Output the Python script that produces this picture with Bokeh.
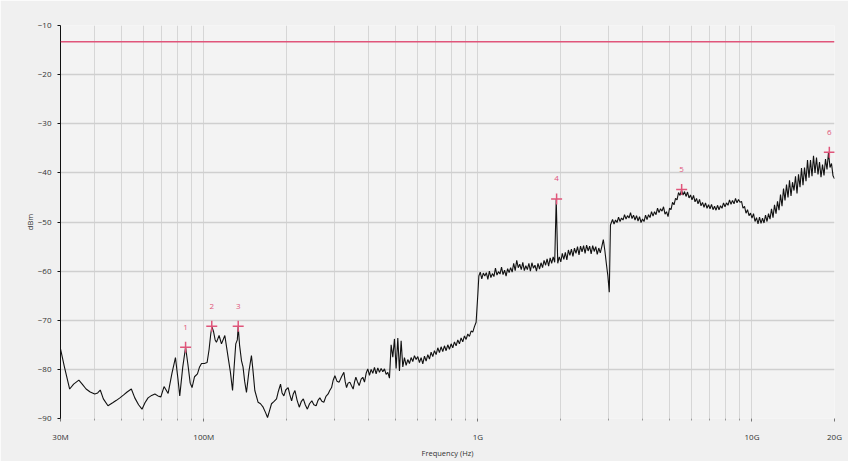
import numpy as np
from bokeh.plotting import figure
from bokeh.models import (Range1d, FixedTicker, CustomJSTickFormatter, Span)
from bokeh.core.properties import value
from bokeh.embed import file_html
from bokeh.resources import INLINE

# ---------------- data ----------------
# low band, hand-read points (MHz, dBm)
low_mhz = [30, 31, 32.4, 33.5, 35, 36, 37.2, 38.5, 40, 41, 41.9, 43, 44.7, 46.5, 48, 49.4,
           51, 52.5, 54.4, 56, 57.8, 59.5, 61, 62.6, 64.5, 66.3, 68, 69.7, 71.6, 74.1, 76.5,
           78.8, 80.5, 81.7, 83.8, 85.8, 87.5, 89.2, 90.6, 92.5, 94.8, 96.5, 98.1, 100.5,
           102.8, 104.5, 106, 107, 108.5, 110, 111.2, 113.7, 116, 119.3, 122.7, 125, 127.3,
           129, 130.8, 132.5, 133.5, 135, 137.2, 139, 141, 143.1, 146, 149.2, 151, 153.5,
           157.8, 161, 164.6, 168, 170.8, 173.5, 176.6, 180.5, 184.2, 187, 190.5, 193, 195.9,
           199, 203.1, 206, 209.1, 212, 215, 219, 223, 227, 230.7, 234.5, 238.7, 243, 247.8,
           252, 256.9, 261, 265.1, 269.5, 274.1, 279, 284.2, 288, 292.5, 296.5, 300.8, 306,
           311.7, 318, 324.3, 328, 331.7, 336, 341, 345.5, 350.6, 355, 358.7, 363.5, 368.8]
low_dbm = [-75.8, -79.5, -84.0, -83.0, -82.2, -83.0, -84.0, -84.6, -85.0, -84.8, -84.2, -86.0,
           -87.4, -86.8, -86.3, -85.8, -85.2, -84.6, -84.0, -85.8, -87.2, -88.1, -86.8, -85.8,
           -85.3, -85.0, -85.4, -85.6, -83.5, -84.9, -80.8, -77.6, -82.0, -85.4, -79.5, -75.5,
           -79.0, -82.8, -83.7, -81.5, -80.9, -79.5, -78.8, -78.8, -78.6, -76.0, -72.8, -71.3,
           -72.3, -74.0, -74.5, -73.1, -74.8, -73.1, -77.6, -80.5, -84.3, -79.5, -74.8, -74.0,
           -71.3, -75.0, -78.2, -79.5, -82.5, -84.7, -80.5, -77.2, -80.0, -84.3, -86.7, -87.0,
           -87.7, -88.8, -89.8, -88.5, -87.0, -86.5, -86.0, -84.5, -83.0, -84.8, -85.4, -84.2,
           -83.7, -85.2, -86.4, -85.0, -84.3, -86.3, -87.7, -86.5, -86.0, -87.2, -88.1, -87.0,
           -86.4, -87.2, -87.4, -86.3, -85.8, -86.5, -86.7, -85.5, -85.0, -84.3, -83.7, -82.2,
           -81.3, -82.4, -82.6, -81.5, -80.6, -82.5, -83.7, -82.8, -82.6, -83.3, -84.0, -82.5,
           -81.6, -82.5, -83.3]

# sweep 375 MHz .. 985 MHz (70 points)
sweep_b_start_mhz, sweep_b_stop_mhz = 375, 985
sweep_b_dbm = [-82.0, -81.6, -82.6, -80.8, -79.9, -81.2, -80.0, -80.8, -79.6, -80.9,
               -79.7, -80.6, -79.8, -80.5, -79.9, -81.0, -80.6, -81.8, -75.0, -77.5,
               -73.8, -79.8, -73.6, -80.3, -74.2, -79.5, -77.6, -79.2, -78.0, -78.8,
               -77.6, -78.4, -77.2, -78.0, -77.4, -78.6, -77.6, -78.9, -77.3, -78.3,
               -77.0, -77.9, -76.5, -77.4, -76.2, -77.0, -75.6, -76.6, -75.4, -76.4,
               -75.2, -76.2, -75.0, -75.9, -74.8, -75.6, -74.4, -75.2, -74.0, -74.8,
               -73.6, -74.4, -73.2, -73.9, -72.8, -73.3, -72.2, -72.4, -71.3, -70.4]

step_1g_mhz = [1000, 1008]
step_1g_dbm = [-64.5, -61.0]

# sweep 1.02 GHz .. 2.98 GHz (85 points)
sweep_d_start_ghz, sweep_d_stop_ghz = 1.02, 2.98
sweep_d_dbm = [-60.2, -61.6, -60.4, -61.0, -60.3, -61.7, -60.0, -61.3, -60.5, -61.1,
               -59.4, -60.8, -60.1, -60.6, -59.2, -60.7, -59.8, -61.0, -59.5, -60.3,
               -59.3, -60.2, -58.4, -59.9, -57.8, -59.3, -58.6, -59.7, -58.2, -59.9,
               -58.9, -59.7, -58.4, -60.0, -58.3, -59.4, -58.8, -60.0, -58.4, -59.6,
               -58.3, -59.3, -57.8, -58.8, -57.5, -59.0, -57.3, -58.4, -57.1, -58.2,
               -45.3, -58.4, -57.1, -58.1, -56.4, -57.6, -56.2, -57.7, -55.7, -56.8,
               -55.5, -57.0, -55.3, -56.4, -55.0, -56.7, -54.9, -56.1, -54.8, -56.4,
               -54.7, -55.9, -54.9, -56.5, -54.8, -56.0, -55.0, -56.6, -55.3, -56.3,
               -55.0, -53.6, -55.8, -58.5, -61.0]

step_3g_mhz = [3015, 3045]
step_3g_dbm = [-64.3, -50.6]

# sweep 3.06 GHz .. 20 GHz (150 points)
sweep_e_start_ghz, sweep_e_stop_ghz = 3.06, 20.0
sweep_e_dbm = [-50.3, -49.5, -50.4, -49.6, -50.1, -49.0, -49.9, -49.2, -49.6, -48.5,
               -49.4, -48.7, -49.2, -48.1, -49.3, -48.6, -49.6, -48.7, -49.8, -48.9,
               -50.1, -49.4, -49.9, -48.6, -49.5, -48.5, -49.1, -47.9, -48.8, -47.9,
               -48.5, -47.2, -48.1, -47.3, -47.8, -46.9, -48.4, -47.9, -48.9, -47.2,
               -47.5, -46.0, -46.5, -45.2, -45.5, -44.0, -44.6, -43.5, -44.5, -43.8,
               -44.8, -43.9, -45.1, -44.5, -45.5, -44.6, -45.9, -45.2, -46.3, -45.4,
               -46.7, -46.0, -47.0, -46.1, -47.2, -46.5, -47.3, -46.4, -47.5, -46.8,
               -47.6, -46.6, -47.5, -46.7, -47.2, -46.1, -46.9, -46.1, -46.6, -45.5,
               -46.4, -45.6, -46.3, -45.2, -46.1, -45.4, -46.0, -45.8, -47.2, -46.8,
               -48.2, -47.5, -48.7, -48.2, -49.2, -48.3, -49.9, -49.1, -50.4, -49.0,
               -50.3, -49.2, -50.2, -48.6, -49.9, -48.3, -49.4, -47.3, -49.1, -46.5,
               -48.3, -45.8, -47.6, -44.4, -46.8, -43.2, -45.6, -42.4, -45.0, -41.5,
               -44.7, -41.9, -43.6, -40.7, -44.2, -40.3, -42.9, -39.0, -42.5, -38.9,
               -41.7, -37.4, -41.0, -37.4, -40.7, -36.5, -40.0, -36.9, -40.3, -37.8,
               -40.9, -38.3, -40.5, -37.2, -39.3, -35.8, -38.9, -38.1, -40.6, -41.2]

limit_dbm = -13.3

marker_mhz = [85.8, 106.9, 133.5, 1937, 5538, 19150]
marker_dbm = [-75.5, -71.2, -71.2, -45.3, -43.4, -35.8]
marker_labels = ["1", "2", "3", "4", "5", "6"]

x_tick_hz = [30e6, 100e6, 1e9, 10e9, 20e9]
x_tick_labels = ["30M", "100M", "1G", "10G", "20G"]
x_minor_hz = ([m * 1e6 for m in (40, 50, 60, 70, 80, 90)] +
              [m * 1e6 for m in (200, 300, 400, 500, 600, 700, 800, 900)] +
              [g * 1e9 for g in (2, 3, 4, 5, 6, 7, 8, 9)])
y_ticks = [-10, -20, -30, -40, -50, -60, -70, -80, -90]

# ---------------- assemble trace ----------------
freq_hz = np.concatenate([
    np.array(low_mhz) * 1e6,
    np.geomspace(sweep_b_start_mhz, sweep_b_stop_mhz, len(sweep_b_dbm)) * 1e6,
    np.array(step_1g_mhz) * 1e6,
    np.geomspace(sweep_d_start_ghz, sweep_d_stop_ghz, len(sweep_d_dbm)) * 1e9,
    np.array(step_3g_mhz) * 1e6,
    np.geomspace(sweep_e_start_ghz, sweep_e_stop_ghz, len(sweep_e_dbm)) * 1e9,
])
level = np.concatenate([low_dbm, sweep_b_dbm, step_1g_dbm, sweep_d_dbm, step_3g_dbm, sweep_e_dbm])

FONT = "Open Sans"
RED = "#e0557a"

p = figure(width=848, height=461, x_axis_type="log", output_backend="svg",
           toolbar_location=None, title=None,
           x_range=Range1d(30e6, 20e9), y_range=Range1d(-90, -10),
           min_border_left=60, min_border_right=14, min_border_top=25, min_border_bottom=43)
p.background_fill_color = "#f3f3f3"
p.border_fill_color = "#f0f0f0"
p.outline_line_color = None

# grids
p.xaxis.ticker = FixedTicker(ticks=x_tick_hz, minor_ticks=x_minor_hz)
p.yaxis.ticker = FixedTicker(ticks=y_ticks, minor_ticks=[])
p.xgrid.grid_line_color = "#d6d6d6"
p.xgrid.grid_line_width = 1
p.xgrid.minor_grid_line_color = "#d6d6d6"
p.xgrid.minor_grid_line_width = 1
p.ygrid.grid_line_color = "#cfcfcf"
p.ygrid.grid_line_width = 1.6

# x axis
p.xaxis.formatter = CustomJSTickFormatter(args=dict(vals=x_tick_hz, labs=x_tick_labels), code="""
for (let i = 0; i < vals.length; i++) {
  if (Math.abs(tick - vals[i]) / vals[i] < 1e-6) return labs[i];
}
return '';
""")
p.xaxis.axis_line_color = None
p.xaxis.major_tick_line_color = "#777777"
p.xaxis.minor_tick_line_color = "#999999"
p.xaxis.major_tick_in = 0
p.xaxis.major_tick_out = 3
p.xaxis.minor_tick_in = 0
p.xaxis.minor_tick_out = 2
p.xaxis.major_label_standoff = 9
p.xaxis.major_label_text_font = FONT
p.xaxis.major_label_text_font_size = "8px"
p.xaxis.major_label_text_color = "#333333"
p.xaxis.axis_label = "Frequency (Hz)"
p.xaxis.axis_label_text_font = FONT
p.xaxis.axis_label_text_font_size = "7.5px"
p.xaxis.axis_label_text_font_style = "normal"
p.xaxis.axis_label_text_color = "#333333"
p.xaxis.axis_label_standoff = 3

# y axis
p.yaxis.axis_line_color = "#111111"
p.yaxis.axis_line_width = 1
p.yaxis.major_tick_line_color = "#111111"
p.yaxis.major_tick_in = 0
p.yaxis.major_tick_out = 3
p.yaxis.major_label_standoff = 6
p.yaxis.major_label_text_font = FONT
p.yaxis.major_label_text_font_size = "8px"
p.yaxis.major_label_text_color = "#333333"
p.yaxis.axis_label = "dBm"
p.yaxis.axis_label_text_font = FONT
p.yaxis.axis_label_text_font_size = "7.5px"
p.yaxis.axis_label_text_font_style = "normal"
p.yaxis.axis_label_text_color = "#333333"
p.yaxis.axis_label_standoff = 0

# limit line
p.add_layout(Span(location=limit_dbm, dimension="width", line_color=RED, line_width=1.5))

# trace
p.line(freq_hz, level, line_color="#111111", line_width=1.1)

# markers
mk_x = np.array(marker_mhz) * 1e6
p.scatter(mk_x, marker_dbm, marker="cross", size=11, line_color=RED, line_width=1.5)
p.text(mk_x, marker_dbm, text=marker_labels, text_color=RED, text_font=value(FONT),
       text_font_size="8px", text_align="center", text_baseline="middle", y_offset=-20)

open("out.html", "w").write(file_html(p, INLINE))
